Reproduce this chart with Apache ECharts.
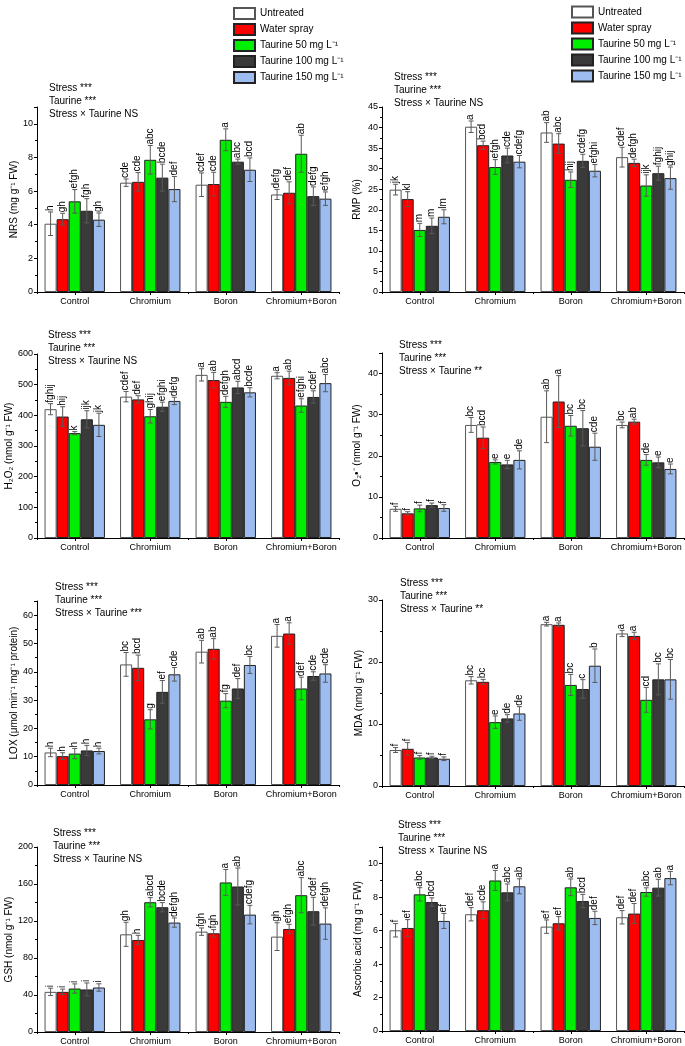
<!DOCTYPE html>
<html><head><meta charset="utf-8">
<script src="https://cdn.jsdelivr.net/npm/echarts@6/dist/echarts.min.js"></script>
<style>html,body{margin:0;padding:0;background:#fff}#c{width:685px;height:1046px}</style>
</head><body><div id="c"></div>
<script>
const categories = ['Control', 'Chromium', 'Boron', 'Chromium+Boron'];
const treatments = ['Untreated', 'Water spray', 'Taurine 50 mg L⁻¹', 'Taurine 100 mg L⁻¹', 'Taurine 150 mg L⁻¹'];

// rows = categories, columns = treatments
const nrsMean = [[4.06,4.33,5.39,4.83,4.30],[6.50,6.55,7.86,6.80,6.12],[6.38,6.42,9.05,7.75,7.27],[5.80,5.90,8.22,5.70,5.55]];
const nrsErr = [[0.70,0.35,0.70,0.72,0.40],[0.22,0.55,0.85,0.80,0.75],[0.70,0.70,0.65,0.15,0.70],[0.30,0.65,1.10,0.55,0.40]];
const nrsLetters = [['h','gh','efgh','fgh','gh'],['cde','cde','abc','bcde','def'],['cdef','cde','a','abc','bcd'],['defg','def','ab','defg','efgh']];

const rmpMean = [[24.9,22.6,15.1,16.1,18.3],[40.2,35.7,30.4,33.2,31.7],[38.8,36.1,27.3,31.9,29.5],[32.8,31.4,25.9,28.9,27.7]];
const rmpErr = [[1.3,1.8,1.6,1.9,1.7],[1.4,1.0,1.8,1.8,1.5],[2.4,2.4,1.9,1.6,1.5],[2.4,0.9,2.6,1.7,2.7]];
const rmpLetters = [['jk','kl','m','m','lm'],['a','bcd','efgh','cde','cdefg'],['ab','abc','hij','cdefg','efghi'],['cdef','defgh','ijk','fghij','ghij']];

const h2o2Mean = [[420,396,342,387,369],[461,452,397,428,447],[532,515,444,491,475],[529,522,432,460,505]];
const h2o2Err = [[18,32,5,28,38],[17,12,22,15,12],[20,25,18,20,15],[10,22,22,20,28]];
const h2o2Letters = [['fghij','hij','k','ijk','jk'],['cdef','def','ghij','efghi','defg'],['a','ab','defgh','abcd','bcde'],['a','ab','efghi','cdef','abc']];

const o2Mean = [[7.1,6.0,7.2,8.0,7.3],[27.5,24.4,18.5,17.9,19.0],[29.5,33.2,27.3,26.7,22.2],[27.5,28.3,19.0,18.4,16.8]];
const o2Err = [[0.6,0.4,0.8,0.5,0.8],[1.8,2.6,0.5,1.0,2.2],[6.3,6.3,2.5,4.3,3.3],[0.7,0.6,1.3,1.3,1.2]];
const o2Letters = [['f','f','f','f','f'],['bc','bcd','e','e','de'],['ab','a','bc','bc','cde'],['bc','ab','de','e','e']];

const loxMean = [[11.5,10.2,11.1,12.2,12.0],[42.6,41.4,23.2,32.9,39.1],[47.1,48.1,29.8,34.1,42.4],[52.7,53.5,34.1,38.5,39.4]];
const loxErr = [[1.5,1.2,1.8,1.8,1.0],[4.2,4.5,3.4,4.0,2.4],[4.0,3.6,2.5,3.5,3.0],[4.0,3.8,4.0,1.5,3.1]];
const loxLetters = [['h','h','h','h','h'],['bc','bcd','g','ef','cde'],['ab','ab','fg','def','bc'],['a','a','def','cde','cde']];

const mdaMean = [[5.8,6.0,4.6,4.6,4.4],[17.05,16.8,10.3,10.9,11.7],[26.1,26.0,16.3,15.65,19.4],[24.6,24.2,13.9,17.2,17.2]];
const mdaErr = [[0.4,1.0,0.3,0.2,0.3],[0.6,0.4,1.0,0.6,1.1],[0.3,0.3,1.7,1.5,2.7],[0.5,0.6,2.0,2.5,3.2]];
const mdaLetters = [['f','f','f','f','f'],['bc','bc','e','de','de'],['a','a','bc','c','b'],['a','a','cd','bc','bc']];

const gshMean = [[43.4,43.4,47.0,46.0,48.1],[105.6,99.5,140.3,134.9,118.3],[108.5,106.7,161.7,157.3,126.9],[103.1,111.4,147.9,130.6,117.2]];
const gshErr = [[4,3,5,7,4],[13,5,5,5,5],[4,4,14,20,10],[15,5,19,15,17]];
const gshLetters = [['i','i','i','i','i'],['gh','h','abcd','bcde','defgh'],['fgh','fgh','a','ab','cdefg'],['gh','efgh','abc','cdef','defgh']];

const asaMean = [[6.02,6.16,8.17,7.71,6.58],[6.98,7.22,9.00,8.29,8.65],[6.24,6.44,8.59,7.77,6.76],[6.80,7.02,8.31,8.57,9.14]];
const asaErr = [[0.4,0.5,0.4,0.25,0.45],[0.4,0.5,0.6,0.5,0.45],[0.4,0.4,0.5,0.4,0.4],[0.4,0.6,0.25,0.5,0.4]];
const asaLetters = [['f','ef','abc','bcd','ef'],['def','cde','a','abc','ab'],['ef','ef','ab','bcd','def'],['def','def','abc','ab','a']];

const yNames = ['NRS (mg g⁻¹ FW)', 'RMP (%)', 'H₂O₂ (nmol g⁻¹ FW)', 'O₂•⁻ (nmol g⁻¹ FW)',
  'LOX (μmol min⁻¹ mg⁻¹ protein)', 'MDA (nmol g⁻¹ FW)', 'GSH (nmol g⁻¹ FW)', 'Ascorbic acid (mg g⁻¹ FW)'];
const yMax = [11, 45, 600, 45, 65, 30, 200, 11];
const yInterval = [2, 5, 100, 10, 10, 10, 40, 2];
const interactionSig = ['NS', 'NS', 'NS', '**', '***', '**', 'NS', 'NS'];

const means = [nrsMean, rmpMean, h2o2Mean, o2Mean, loxMean, mdaMean, gshMean, asaMean];
const errs = [nrsErr, rmpErr, h2o2Err, o2Err, loxErr, mdaErr, gshErr, asaErr];
const letters = [nrsLetters, rmpLetters, h2o2Letters, o2Letters, loxLetters, mdaLetters, gshLetters, asaLetters];

// layout
const FONT = 'Liberation Sans, Arial, sans-serif';
const colors = ['#ffffff', '#ff0000', '#00ee00', '#3a3a3a', '#9dbcf0'];
const borders = ['#555555', '#222222', '#222222', '#222222', '#222222'];
const grids = [
  {left: 37, top: 107, width: 302, height: 185},
  {left: 382, top: 107, width: 302, height: 185},
  {left: 37, top: 354, width: 302, height: 184},
  {left: 382, top: 353, width: 302, height: 185},
  {left: 37, top: 601, width: 302, height: 184},
  {left: 382, top: 600, width: 302, height: 186},
  {left: 37, top: 847, width: 302, height: 185},
  {left: 382, top: 847, width: 302, height: 184}
];
const nameGaps = [18, 20, 22, 20, 17, 18, 23, 19];
const annotPos = [[49, 89], [394, 78], [48, 336], [399, 346], [55, 588], [400, 584], [53, 834], [398, 826]];

const mainX = grids.map((g, i) => ({
  type: 'category', gridIndex: i, data: categories, position: 'bottom',
  axisLine: {lineStyle: {color: '#000', width: 1}},
  axisTick: {show: true, length: 3, alignWithLabel: true, lineStyle: {color: '#000'}},
  axisLabel: {fontSize: 9, color: '#000', margin: 5, fontFamily: FONT, interval: 0}
}));
const boundaryX = grids.map((g, i) => ({
  type: 'category', gridIndex: i, data: categories, position: 'bottom', offset: 0,
  axisLine: {show: false},
  axisTick: {show: true, length: 2, alignWithLabel: false, lineStyle: {color: '#000'}},
  axisLabel: {show: false}
}));

const option = {
  animation: false,
  backgroundColor: '#fff',
  textStyle: {fontFamily: FONT},
  legend: [
    {data: treatments, orient: 'vertical', left: 228, top: 2, itemWidth: 21, itemHeight: 11, itemGap: 3,
     icon: 'rect', selectedMode: false, textStyle: {fontSize: 10, color: '#000', fontFamily: FONT}},
    {data: treatments, orient: 'vertical', left: 566, top: 0.5, itemWidth: 21, itemHeight: 11, itemGap: 3,
     icon: 'rect', selectedMode: false, textStyle: {fontSize: 10, color: '#000', fontFamily: FONT}}
  ],
  grid: grids.map(g => Object.assign({containLabel: false}, g)),
  xAxis: mainX.concat(boundaryX),
  yAxis: grids.map((g, i) => ({
    type: 'value', gridIndex: i, min: 0, max: yMax[i], interval: yInterval[i],
    name: yNames[i], nameLocation: 'middle', nameGap: nameGaps[i],
    nameTextStyle: {fontSize: 10, color: '#000', fontFamily: FONT},
    axisLine: {show: true, lineStyle: {color: '#000', width: 1}},
    axisTick: {show: true, length: 3, lineStyle: {color: '#000'}},
    minorTick: {show: true, splitNumber: 2, length: 2, lineStyle: {color: '#000'}},
    splitLine: {show: false},
    axisLabel: {fontSize: 9, color: '#000', margin: 4, fontFamily: FONT,
      showMaxLabel: yMax[i] % yInterval[i] === 0}
  })),
  series: [],
  graphic: []
};

for (let p = 0; p < 8; p++) {
  for (let t = 0; t < 5; t++) {
    option.series.push({
      type: 'bar', name: treatments[t], xAxisIndex: p, yAxisIndex: p,
      data: means[p].map(row => row[t]),
      barGap: '0%', barCategoryGap: '20%',
      itemStyle: {color: colors[t], borderColor: borders[t], borderWidth: 1},
      emphasis: {disabled: true}
    });
  }
  const items = [];
  const labs = [];
  for (let c = 0; c < 4; c++) {
    for (let t = 0; t < 5; t++) {
      items.push([c, means[p][c][t], errs[p][c][t], t]);
      labs.push(letters[p][c][t]);
    }
  }
  option.series.push({
    type: 'custom', xAxisIndex: p, yAxisIndex: p, z: 5, clip: false,
    data: items,
    renderItem: function (params, api) {
      const c = api.value(0), m = api.value(1), e = api.value(2), t = api.value(3);
      const center = api.coord([c, m]);
      const band = api.size([1, 0])[0];
      const bw = band * 0.8 / 5;
      const x = center[0] + (t - 2) * bw;
      const yTop = api.coord([c, m + e])[1];
      const yBot = api.coord([c, m - e])[1];
      const cap = 2.5;
      const st = {stroke: '#5a5a5a', lineWidth: 1};
      return {type: 'group', children: [
        {type: 'line', shape: {x1: x, y1: yTop, x2: x, y2: yBot}, style: st},
        {type: 'line', shape: {x1: x - cap, y1: yTop, x2: x + cap, y2: yTop}, style: st},
        {type: 'line', shape: {x1: x - cap, y1: yBot, x2: x + cap, y2: yBot}, style: st},
        {type: 'text', x: x - 0.5, y: yTop - 1, rotation: Math.PI / 2,
         style: {text: labs[params.dataIndex], fontSize: 10, fill: '#000', fontFamily: FONT,
                 align: 'left', verticalAlign: 'middle'}}
      ]};
    }
  });
  const lines = ['Stress ***', 'Taurine ***', 'Stress × Taurine ' + interactionSig[p]];
  const steps = [0, 13, 26];
  lines.forEach((s, k) => {
    option.graphic.push({type: 'text', left: annotPos[p][0], top: annotPos[p][1] - 6 + steps[k],
      style: {text: s, fontSize: 10, fill: '#000', fontFamily: FONT}});
  });
}

const chart = echarts.init(document.getElementById('c'), null, {renderer: 'canvas'});
chart.setOption(option);
</script></body></html>
